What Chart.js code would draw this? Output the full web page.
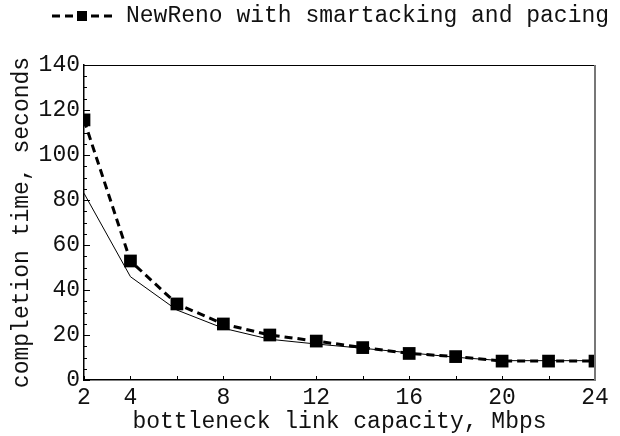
<!DOCTYPE html>
<html>
<head>
<meta charset="utf-8">
<script src="https://cdn.jsdelivr.net/npm/chart.js@4.4.0/dist/chart.umd.min.js"></script>
<style>
    html, body { margin: 0; padding: 0; background: #fff; }
    #wrap { width: 620px; height: 436px; }
</style>
</head>
<body>
<div id="wrap"><canvas id="myChart"></canvas></div>
<script>
// bottleneck link capacity, Mbps
const capacity = [2, 4, 6, 8, 10, 12, 14, 16, 18, 20, 22, 24];
// completion time, seconds
const pacingTimes = [115.6, 52.9, 33.8, 24.9, 20.0, 17.3, 14.4, 11.8, 10.4, 8.4, 8.4, 8.4];
const plainTimes = [83.0, 45.9, 31.1, 23.0, 18.1, 16.0, 14.1, 12.1, 10.1, 8.6, 8.6, 8.6];
const xTickLabels = [2, 4, 8, 12, 16, 20, 24];
const yTickLabels = [0, 20, 40, 60, 80, 100, 120, 140];

const FONT = 'Liberation Mono, Courier New, monospace';
const TEXT = '#111';

const toPoints = (ys) => capacity.map((c, i) => ({ x: c, y: ys[i] }));

// inward tick marks, top/right frame and the one-entry legend
const framePlugin = {
    id: 'frame',
    afterDatasetsDraw(chart) {
        const { ctx, chartArea: a, scales } = chart;
        ctx.save();
        ctx.strokeStyle = '#000';
        ctx.lineWidth = 1;
        // y ticks every 5, longer on the labelled ones
        for (let v = 0; v <= 140; v += 5) {
            const py = Math.round(scales.y.getPixelForValue(v)) + 0.5;
            const len = v % 20 === 0 ? 6 : 3;
            ctx.beginPath();
            ctx.moveTo(a.left, py);
            ctx.lineTo(a.left + len, py);
            ctx.stroke();
        }
        // x ticks every 2
        capacity.forEach(c => {
            const px = Math.round(scales.x.getPixelForValue(c)) + 0.5;
            ctx.beginPath();
            ctx.moveTo(px, a.bottom);
            ctx.lineTo(px, a.bottom - 4);
            ctx.stroke();
        });
        // top and right edges of the box
        ctx.beginPath();
        ctx.moveTo(a.left, a.top + 0.5);
        ctx.lineTo(a.right, a.top + 0.5);
        ctx.stroke();
        ctx.strokeStyle = '#777';
        ctx.lineWidth = 2;
        ctx.beginPath();
        ctx.moveTo(a.right, a.top);
        ctx.lineTo(a.right, a.bottom);
        ctx.stroke();

        // legend: dashed sample with a square marker
        const ly = 16;
        ctx.strokeStyle = '#000';
        ctx.lineWidth = 3;
        ctx.setLineDash([8, 5]);
        ctx.beginPath();
        ctx.moveTo(52, ly);
        ctx.lineTo(112, ly);
        ctx.stroke();
        ctx.setLineDash([]);
        ctx.fillStyle = '#000';
        ctx.fillRect(77, ly - 5, 10, 10);
        ctx.font = '23px ' + FONT;
        ctx.fillStyle = TEXT;
        ctx.textAlign = 'left';
        ctx.textBaseline = 'middle';
        ctx.fillText(chart.data.datasets[0].label, 126, ly);
        ctx.restore();
    }
};

const ctx = document.getElementById('myChart').getContext('2d');
const myChart = new Chart(ctx, {
    type: 'line',
    data: {
        datasets: [{
            label: 'NewReno with smartacking and pacing',
            data: toPoints(pacingTimes),
            borderColor: '#000',
            backgroundColor: '#000',
            borderWidth: 3,
            borderDash: [8, 5],
            pointStyle: 'rect',
            pointRadius: 9,
            pointHoverRadius: 9,
            pointBorderWidth: 0,
            tension: 0,
            order: 0
        }, {
            label: 'NewReno',
            data: toPoints(plainTimes),
            borderColor: '#000',
            borderWidth: 1,
            pointRadius: 0,
            tension: 0,
            order: 1
        }]
    },
    options: {
        responsive: true,
        maintainAspectRatio: false,
        animation: false,
        layout: { padding: { top: 65, left: 0, right: 25, bottom: 0 } },
        plugins: {
            legend: { display: false },
            tooltip: { enabled: false }
        },
        scales: {
            x: {
                type: 'linear',
                min: 2,
                max: 24,
                afterBuildTicks: (scale) => {
                    scale.ticks = capacity.map(v => ({ value: v }));
                },
                afterFit: (scale) => { scale.height = 56; },
                grid: { drawOnChartArea: false, drawTicks: false },
                border: { display: true, color: '#000', width: 1.5 },
                ticks: {
                    autoSkip: false,
                    maxRotation: 0,
                    padding: 4,
                    color: TEXT,
                    font: { family: FONT, size: 23 },
                    callback: (v) => xTickLabels.includes(v) ? String(v) : ''
                },
                title: {
                    display: true,
                    text: 'bottleneck link capacity, Mbps',
                    color: TEXT,
                    padding: 0,
                    font: { family: FONT, size: 23 }
                }
            },
            y: {
                min: 0,
                max: 140,
                afterBuildTicks: (scale) => {
                    scale.ticks = yTickLabels.map(v => ({ value: v }));
                },
                afterFit: (scale) => { scale.width = 84; },
                grid: { drawOnChartArea: false, drawTicks: false },
                border: { display: true, color: '#000', width: 1.5 },
                ticks: {
                    padding: 4,
                    color: TEXT,
                    font: { family: FONT, size: 23 }
                },
                title: {
                    display: true,
                    text: 'completion time, seconds',
                    color: TEXT,
                    padding: { top: 8, bottom: 0 },
                    font: { family: FONT, size: 23 }
                }
            }
        }
    },
    plugins: [framePlugin]
});
</script>
</body>
</html>
